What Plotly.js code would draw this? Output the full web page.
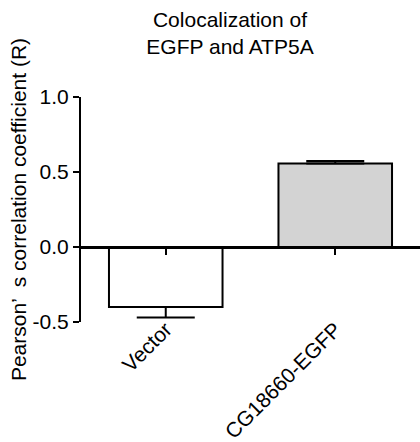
<!DOCTYPE html>
<html>
<head>
<meta charset="utf-8">
<script src="https://cdn.plot.ly/plotly-3.0.1.min.js"></script>
<style>html,body{margin:0;padding:0;background:#fff;}#chart{width:420px;height:442px;}</style>
</head>
<body>
<div id="chart"></div>
<script>
const categories = ['Vector', 'CG18660-EGFP'];
const meanR = [-0.40, 0.557];
const errUp = [0, 0.017];
const errDown = [0.07, 0];
const barColors = ['#ffffff', '#d3d3d3'];
const yTicks = [-0.5, 0.0, 0.5, 1.0];
const yTickText = ['-0.5', '0.0', '0.5', '1.0'];
const yRange = [-0.5, 1.0];

const FONT = 'Liberation Sans, Arial, sans-serif';
const zeroPos = (0 - yRange[0]) / (yRange[1] - yRange[0]);

const traces = [
  {
    type: 'bar',
    x: categories,
    y: meanR,
    width: 0.67,
    marker: {color: barColors, line: {color: '#000', width: 2}},
    error_y: {
      type: 'data', symmetric: false, array: errUp, arrayminus: errDown,
      color: '#000', thickness: 2, width: 29
    },
    xaxis: 'x', yaxis: 'y',
    hoverinfo: 'none'
  },
  {
    type: 'scatter', mode: 'markers',
    x: categories, y: [null, null],
    xaxis: 'x2', yaxis: 'y',
    showlegend: false, hoverinfo: 'none'
  }
];

const layout = {
  width: 420, height: 442,
  margin: {l: 81, r: 0, t: 97, b: 120, pad: 0},
  paper_bgcolor: '#fff', plot_bgcolor: 'rgba(0,0,0,0)',
  showlegend: false,
  font: {family: FONT, color: '#000', size: 20},
  title: {
    text: 'Colocalization of<br>EGFP and ATP5A',
    font: {family: FONT, size: 21, color: '#000'},
    x: 230 / 420, xanchor: 'center', xref: 'container',
    y: 1 - 27 / 442, yanchor: 'middle', yref: 'container'
  },
  xaxis: {
    type: 'category', range: [-0.5, 1.5],
    anchor: 'free', position: zeroPos,
    showline: true, linecolor: '#000', linewidth: 2.5,
    ticks: 'outside', ticklen: 6, tickwidth: 2, tickcolor: '#000',
    showticklabels: false, showgrid: false, zeroline: false
  },
  xaxis2: {
    type: 'category', overlaying: 'x', matches: 'x', anchor: 'free', position: 0.044, side: 'bottom',
    showline: false, ticks: '', showgrid: false, zeroline: false,
    tickangle: -45, tickfont: {family: FONT, size: 21, color: '#000'}
  },
  yaxis: {
    range: yRange, tickvals: yTicks, ticktext: yTickText,
    showline: true, linecolor: '#000', linewidth: 2,
    ticks: 'outside', ticklen: 6, tickwidth: 2, tickcolor: '#000',
    showgrid: false, zeroline: false,
    tickfont: {family: FONT, size: 21, color: '#000'},
    title: {
      text: 'Pearson’  s correlation coefficient (R)',
      font: {family: FONT, size: 21, color: '#000'},
      standoff: 0
    }
  }
};

Plotly.newPlot('chart', traces, layout, {displayModeBar: false, staticPlot: true});
</script>
</body>
</html>
